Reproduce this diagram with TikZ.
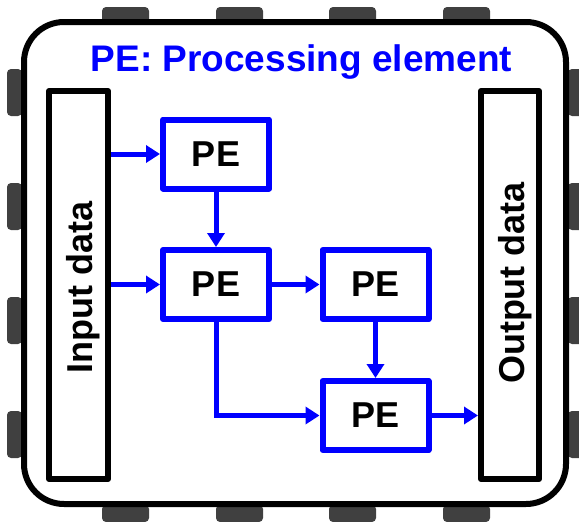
\documentclass[tikz,border=0pt]{standalone}
\usepackage{fontspec}
\setmainfont{Liberation Sans}
\usetikzlibrary{arrows.meta}
\definecolor{pingray}{HTML}{404040}
\definecolor{peblue}{RGB}{0,0,255}
\tikzset{
  pin/.style={fill=pingray, rounded corners=4pt},
  databox/.style={draw=black, line width=6pt, line join=round, minimum height=388pt, inner sep=0pt},
  pebox/.style={draw=peblue, line width=6pt, line join=round, minimum width=106pt, minimum height=69pt, inner sep=0pt,
     font=\bfseries\fontsize{36}{36}\selectfont},
  arr/.style={draw=peblue, line width=5pt, -{Triangle[length=14pt,width=17pt]}},
  bigtext/.style={font=\bfseries\fontsize{36}{36}\selectfont, inner sep=0pt},
}
\begin{document}
\begin{tikzpicture}[x=1pt,y=-1pt]
\useasboundingbox (0,0) rectangle (579,522);
% pins
\foreach \p in {102,216,329,443}{
  \path[pin] (\p,7) rectangle ++(47,17);
  \path[pin] (\p,505) rectangle ++(47,17);
}
\foreach \p in {69,183,297,411}{
  \path[pin] (7,\p) rectangle ++(15,47);
  \path[pin] (568,\p) rectangle ++(15,47);
}
% chip outline
\draw[line width=6pt, fill=white, rounded corners=40pt] (24,22) rectangle (566,504);
% title
\node[bigtext, text=peblue, anchor=base, font=\bfseries\fontsize{37}{37}\selectfont] (title) at (301.5,71) {PE: Processing element};
% data boxes
\node[databox, minimum width=59pt] (in) at (78.5,285) {};
\node[databox, minimum width=58pt] (out) at (510,285) {};
\node[bigtext, rotate=90, anchor=base] (intext) at (92,287.5) {Input data};
\node[bigtext, rotate=90, anchor=base] (outtext) at (524,283) {Output data};
% PEs
\node[pebox] (pe1) at (216,154) {PE};
\node[pebox] (pe2) at (216,284.5) {PE};
\node[pebox] (pe3) at (375.5,284.5) {PE};
\node[pebox] (pe4) at (375.5,415.5) {PE};
% arrows
\draw[arr] (pe1.west -| in.east) -- (pe1.west);
\draw[arr] (pe2.west -| in.east) -- (pe2.west);
\draw[arr] (pe1.south) -- (pe2.north);
\draw[arr] (pe2.east) -- (pe3.west);
\draw[arr] (pe3.south) -- (pe4.north);
\draw[arr] (pe2.south) |- (pe4.west);
\draw[arr] (pe4.east) -- (pe4.east -| out.west);
\end{tikzpicture}
\end{document}
